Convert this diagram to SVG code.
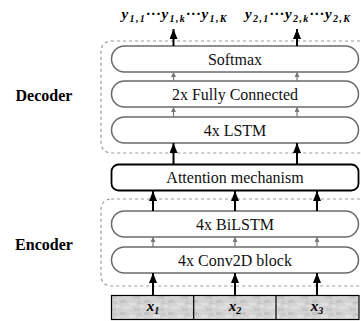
<svg xmlns="http://www.w3.org/2000/svg" width="361" height="321" viewBox="0 0 361 321">
<style>
.box{fill:#fff;stroke:#6a6a6a;stroke-width:1.5}
.att{fill:#fff;stroke:#000;stroke-width:1.8}
.grp{fill:none;stroke:#9a9a9a;stroke-width:1.2;stroke-dasharray:3 3}
.lbl{font-family:"Liberation Serif","Times New Roman",serif;font-size:16px;fill:#111;text-anchor:middle}
.side{font-family:"Liberation Serif","Times New Roman",serif;font-size:16px;font-weight:bold;fill:#000;text-anchor:middle}
.math{font-family:"Liberation Serif","Times New Roman",serif;font-style:italic;font-weight:bold;fill:#000;text-anchor:middle}
.blk{stroke:#000;stroke-width:2;marker-end:url(#ab)}
.gry{stroke:#777;stroke-width:1.2;marker-end:url(#ag)}
</style>
<defs>
<marker id="ab" viewBox="0 0 10 10" refX="10" refY="5" markerWidth="10" markerHeight="8" markerUnits="userSpaceOnUse" orient="auto" preserveAspectRatio="none"><path d="M0,0 L10,5 L0,10 z" fill="#000"/></marker>
<marker id="ag" viewBox="0 0 10 10" refX="10" refY="5" markerWidth="5" markerHeight="5" markerUnits="userSpaceOnUse" orient="auto" preserveAspectRatio="none"><path d="M0,0 L10,5 L0,10 z" fill="#777"/></marker>
<pattern id="tex" width="24" height="12" patternUnits="userSpaceOnUse">
<rect width="24" height="12" fill="#d3d3d3"/>
<rect x="0" y="0" width="6" height="3" fill="#c4c4c4"/>
<rect x="9" y="3" width="7" height="3" fill="#e0e0e0"/>
<rect x="17" y="1" width="5" height="3" fill="#c8c8c8"/>
<rect x="3" y="6" width="8" height="3" fill="#dedede"/>
<rect x="14" y="8" width="6" height="3" fill="#c6c6c6"/>
<rect x="20" y="5" width="4" height="3" fill="#dcdcdc"/>
</pattern>
</defs>

<g id="decoder-group">
<rect class="grp" x="101" y="41" width="272" height="112" rx="10"/>
<text class="side" x="44" y="101">Decoder</text>
</g>
<g id="encoder-group">
<rect class="grp" x="101" y="199" width="272" height="87" rx="10"/>
<text class="side" x="44" y="250">Encoder</text>
</g>

<g id="outputs">
<text class="math" x="174" y="19" font-size="15" textLength="105" lengthAdjust="spacing">y<tspan font-size="10" dy="3">1,1</tspan><tspan dy="-3">···</tspan>y<tspan font-size="10" dy="3">1,k</tspan><tspan dy="-3">···</tspan>y<tspan font-size="10" dy="3">1,K</tspan></text>
<text class="math" x="297.5" y="19" font-size="15" textLength="105" lengthAdjust="spacing">y<tspan font-size="10" dy="3">2,1</tspan><tspan dy="-3">···</tspan>y<tspan font-size="10" dy="3">2,k</tspan><tspan dy="-3">···</tspan>y<tspan font-size="10" dy="3">2,K</tspan></text>
</g>

<g id="softmax">
<rect class="box" x="111.5" y="46" width="247" height="26" rx="13"/>
<text class="lbl" x="235" y="64.5">Softmax</text>
</g>
<g id="fully-connected">
<rect class="box" x="111.5" y="81" width="247" height="26" rx="13"/>
<text class="lbl" x="235" y="99.5">2x Fully Connected</text>
</g>
<g id="lstm">
<rect class="box" x="111.5" y="117" width="247" height="26" rx="13"/>
<text class="lbl" x="235" y="135.5">4x LSTM</text>
</g>
<g id="attention">
<rect class="att" x="111.5" y="164.5" width="247" height="26" rx="7"/>
<text class="lbl" x="235" y="183">Attention mechanism</text>
</g>
<g id="bilstm">
<rect class="box" x="111.5" y="211" width="247" height="26" rx="13"/>
<text class="lbl" x="235" y="229.5">4x BiLSTM</text>
</g>
<g id="conv2d">
<rect class="box" x="111.5" y="247" width="247" height="26" rx="13"/>
<text class="lbl" x="235" y="265.5">4x Conv2D block</text>
</g>
<g id="inputs">
<rect x="111.5" y="295.5" width="247.5" height="24" fill="url(#tex)" stroke="#000" stroke-width="1.2"/>
<line x1="193.7" y1="295.5" x2="193.7" y2="319.5" stroke="#000" stroke-width="1.2"/>
<line x1="276" y1="295.5" x2="276" y2="319.5" stroke="#000" stroke-width="1.2"/>
<text class="math" x="153" y="311" font-size="15">x<tspan font-size="10" dy="3">1</tspan></text>
<text class="math" x="235" y="311" font-size="15">x<tspan font-size="10" dy="3">2</tspan></text>
<text class="math" x="317" y="311" font-size="15">x<tspan font-size="10" dy="3">3</tspan></text>
</g>

<g id="connectors">
<line class="blk" x1="173.5" y1="46" x2="173.5" y2="29"/>
<line class="blk" x1="297" y1="46" x2="297" y2="29"/>
<line class="gry" x1="173.5" y1="81" x2="173.5" y2="72"/>
<line class="gry" x1="297" y1="81" x2="297" y2="72"/>
<line class="gry" x1="173.5" y1="117" x2="173.5" y2="107"/>
<line class="gry" x1="297" y1="117" x2="297" y2="107"/>
<line class="blk" x1="173.5" y1="164" x2="173.5" y2="143"/>
<line class="blk" x1="297" y1="164" x2="297" y2="143"/>
<line class="blk" x1="153" y1="211" x2="153" y2="191"/>
<line class="blk" x1="235" y1="211" x2="235" y2="191"/>
<line class="blk" x1="317" y1="211" x2="317" y2="191"/>
<line class="gry" x1="153" y1="247" x2="153" y2="237"/>
<line class="gry" x1="235" y1="247" x2="235" y2="237"/>
<line class="gry" x1="317" y1="247" x2="317" y2="237"/>
<line class="blk" x1="153" y1="295" x2="153" y2="273"/>
<line class="blk" x1="235" y1="295" x2="235" y2="273"/>
<line class="blk" x1="317" y1="295" x2="317" y2="273"/>
</g>
</svg>
